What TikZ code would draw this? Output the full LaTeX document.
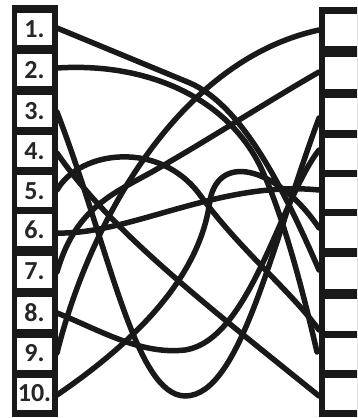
\documentclass[tikz,border=0pt]{standalone}
\usepackage{fontspec}
\setmainfont{Carlito}
\begin{document}
\begin{tikzpicture}[x=1pt,y=-1pt,
  boxw/.style={fill=white,draw=none,minimum width=35pt,minimum height=32pt,inner sep=0pt,
    font=\bfseries\fontsize{26}{26}\selectfont,text=black!85},
  rope/.style={line width=5.5pt,line cap=round,black!90}]
\useasboundingbox (0,0) rectangle (357,418);
\clip (0,0) rectangle (357,418);
% left column
\fill[black!90] (12,5) rectangle (58,417);
\foreach \i/\y in {1/29,2/70,3/111,4/151,5/191,6/230,7/271.5,8/312.5,9/353.5,10/393.5}{
  \node[boxw] (L\i) at (34.5,\y) {\i.};
}
% right column
\fill[black!90] (319,7) rectangle (370,417);
\foreach \i/\y in {1/30,2/72.5,3/113.5,4/153.5,5/192.5,6/231.5,7/272.5,8/314.5,9/354,10/394}{
  \node[boxw,minimum width=40pt] (R\i) at (345,\y) {};
}
\coordinate (a1) at (57,28);   \coordinate (b7) at (319,270);
\coordinate (a2) at (57,68);   \coordinate (b9) at (317,352);
\coordinate (a3) at (57,112);  \coordinate (b3) at (319,118);
\coordinate (a4) at (57,153);  \coordinate (b10) at (319,396);
\coordinate (a5) at (57,190);  \coordinate (b8) at (319,330);
\coordinate (a6) at (57,233);  \coordinate (b5) at (319,190);
\coordinate (a7) at (57,272);  \coordinate (b2) at (319,72);
\coordinate (a8) at (57,313);  \coordinate (b4) at (319,150);
\coordinate (a9) at (57,353);  \coordinate (b1) at (319,30);
\coordinate (a10) at (57,395); \coordinate (b6) at (319,228);
\draw[rope] (a1) -- (190,83) .. controls (240,105) and (280,180) .. (b7);
\draw[rope] (a2) .. controls (150,62) and (230,100) .. (262,170) .. controls (285,220) and (305,300) .. (b9);
\draw[rope] (a3) .. controls (110,250) and (135,395) .. (185,396) .. controls (240,396) and (270,250) .. (b3);
\draw[rope] (a4) .. controls (110,230) and (200,300) .. (b10);
\draw[rope] (a5) .. controls (80,150) and (160,140) .. (200,195) .. controls (240,250) and (290,290) .. (b8);
\draw[rope] (a6) .. controls (130,235) and (220,180) .. (b5);
\draw[rope] (a7) .. controls (75,210) and (110,195) .. (150,173) .. controls (200,145) and (270,100) .. (b2);
\draw[rope] (a8) .. controls (100,330) and (140,355) .. (185,350) .. controls (250,340) and (280,200) .. (b4);
\draw[rope] (a9) .. controls (90,220) and (180,60) .. (b1);
\draw[rope] (a10) .. controls (130,345) and (200,280) .. (210,200) .. controls (220,150) and (280,170) .. (b6);
\end{tikzpicture}
\end{document}
